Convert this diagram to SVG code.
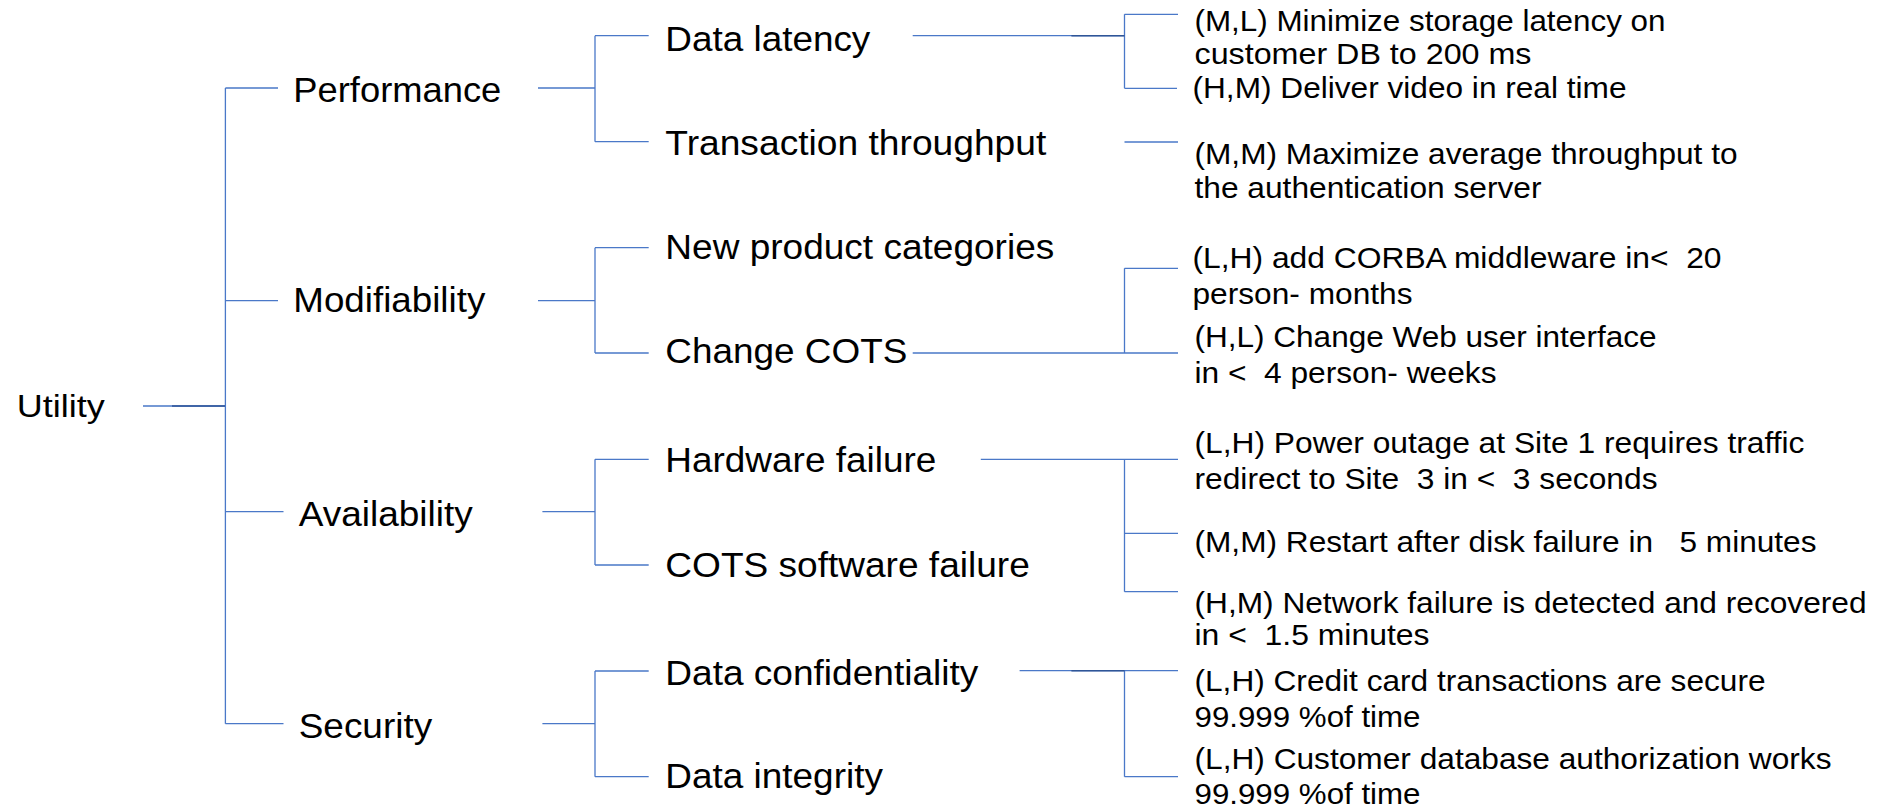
<svg xmlns="http://www.w3.org/2000/svg" width="1884" height="809" viewBox="0 0 1884 809">
<style>
  text { font-family: "Liberation Sans", Arial, sans-serif; fill: #000; white-space: pre; }
  .l1 { font-size: 32px; }
  .l2 { font-size: 35px; }
  .l3 { font-size: 35.5px; }
  .lf { font-size: 29px; }
  .c { stroke: #4a78c8; stroke-width: 1.3; fill: none; }
  .cd { stroke: #2f5597; stroke-width: 1.6; fill: none; }
</style>
<rect x="0" y="0" width="1884" height="809" fill="#fff"/>
<g id="connectors">
  <path class="c" d="M143 406H225.4M225.4 88V723.7M225.4 88H278M225.4 300.7H278M225.4 511.7H283.5M225.4 723.7H283.5"/>
  <path class="cd" d="M172 406H225"/>
  <path class="c" d="M538 88H595M538 300.7H595M542.4 511.7H595M542.4 723.7H595"/>
  <path class="c" d="M595 35.7V141.7M595 35.7H648.7M595 141.7H648.7"/>
  <path class="c" d="M595 247.7V353M595 247.7H648.7M595 353H648.7"/>
  <path class="c" d="M595 459.3V565M595 459.3H648.7M595 565H648.7"/>
  <path class="c" d="M595 671V776.7M595 671H648.7M595 776.7H648.7"/>
  <path class="c" d="M912.7 35.7H1124.5M1124.5 14.3V88.3M1124.5 14.3H1178M1124.5 88.3H1177"/>
  <path class="cd" d="M1071.4 35.7H1124.5"/>
  <path class="c" d="M1124.5 142H1178"/>
  <path class="c" d="M912.7 353H1178M1124.5 268.3V353M1124.5 268.3H1178"/>
  <path class="c" d="M980.8 459.3H1178M1124.5 459.3V591.7M1124.5 533.3H1178M1124.5 591.7H1178"/>
  <path class="c" d="M1019.6 670.7H1178M1124.5 670.7V776.7M1124.5 776.7H1178"/>
  <path class="cd" d="M1071.4 670.7H1124.5"/>
</g>
<g id="utility"><text class="l1" x="16.7" y="417.3" textLength="88" lengthAdjust="spacingAndGlyphs">Utility</text></g>
<g id="performance"><text class="l2" x="293.3" y="102" textLength="208" lengthAdjust="spacingAndGlyphs">Performance</text></g>
<g id="modifiability"><text class="l2" x="293.3" y="312" textLength="192" lengthAdjust="spacingAndGlyphs">Modifiability</text></g>
<g id="availability"><text class="l2" x="298.7" y="526" textLength="174" lengthAdjust="spacingAndGlyphs">Availability</text></g>
<g id="security"><text class="l2" x="298.7" y="738.3" textLength="133.5" lengthAdjust="spacingAndGlyphs">Security</text></g>

<g id="data-latency"><text class="l3" x="665.3" y="50.7" textLength="205" lengthAdjust="spacingAndGlyphs">Data latency</text></g>
<g id="transaction-throughput"><text class="l3" x="665.3" y="155" textLength="381" lengthAdjust="spacingAndGlyphs">Transaction throughput</text></g>
<g id="new-product-categories"><text class="l3" x="665.3" y="259" textLength="389" lengthAdjust="spacingAndGlyphs">New product categories</text></g>
<g id="change-cots"><text class="l3" x="665.3" y="363.3" textLength="242" lengthAdjust="spacingAndGlyphs">Change COTS</text></g>
<g id="hardware-failure"><text class="l3" x="665.3" y="471.7" textLength="271" lengthAdjust="spacingAndGlyphs">Hardware failure</text></g>
<g id="cots-software-failure"><text class="l3" x="665.3" y="576.7" textLength="364.5" lengthAdjust="spacingAndGlyphs">COTS software failure</text></g>
<g id="data-confidentiality"><text class="l3" x="665.3" y="685" textLength="313" lengthAdjust="spacingAndGlyphs">Data confidentiality</text></g>
<g id="data-integrity"><text class="l3" x="665.3" y="788.3" textLength="217.6" lengthAdjust="spacingAndGlyphs">Data integrity</text></g>

<g id="leaf-ml-storage">
  <text class="lf" x="1194.5" y="31" textLength="471" lengthAdjust="spacingAndGlyphs">(M,L) Minimize storage latency on</text>
  <text class="lf" x="1194.5" y="63.5" textLength="337" lengthAdjust="spacingAndGlyphs">customer DB to 200 ms</text>
</g>
<g id="leaf-hm-video"><text class="lf" x="1192.5" y="97.5" textLength="434" lengthAdjust="spacingAndGlyphs">(H,M) Deliver video in real time</text></g>
<g id="leaf-mm-throughput">
  <text class="lf" x="1194.5" y="163.5" textLength="543" lengthAdjust="spacingAndGlyphs">(M,M) Maximize average throughput to</text>
  <text class="lf" x="1194.5" y="198.3" textLength="347" lengthAdjust="spacingAndGlyphs">the authentication server</text>
</g>
<g id="leaf-lh-corba">
  <text class="lf" x="1192.5" y="268.3" textLength="529" lengthAdjust="spacingAndGlyphs">(L,H) add CORBA middleware in&lt;  20</text>
  <text class="lf" x="1192.5" y="304" textLength="220" lengthAdjust="spacingAndGlyphs">person- months</text>
</g>
<g id="leaf-hl-web">
  <text class="lf" x="1194.5" y="347.3" textLength="462" lengthAdjust="spacingAndGlyphs">(H,L) Change Web user interface</text>
  <text class="lf" x="1194.5" y="383.3" textLength="302" lengthAdjust="spacingAndGlyphs">in &lt;  4 person- weeks</text>
</g>
<g id="leaf-lh-power">
  <text class="lf" x="1194.5" y="453.3" textLength="610" lengthAdjust="spacingAndGlyphs">(L,H) Power outage at Site 1 requires traffic</text>
  <text class="lf" x="1194.5" y="489.3" textLength="463" lengthAdjust="spacingAndGlyphs">redirect to Site  3 in &lt;  3 seconds</text>
</g>
<g id="leaf-mm-restart"><text class="lf" x="1194.5" y="551.7" textLength="622" lengthAdjust="spacingAndGlyphs">(M,M) Restart after disk failure in   5 minutes</text></g>
<g id="leaf-hm-network">
  <text class="lf" x="1194.5" y="613.3" textLength="672" lengthAdjust="spacingAndGlyphs">(H,M) Network failure is detected and recovered</text>
  <text class="lf" x="1194.5" y="645" textLength="235" lengthAdjust="spacingAndGlyphs">in &lt;  1.5 minutes</text>
</g>
<g id="leaf-lh-credit">
  <text class="lf" x="1194.5" y="690.7" textLength="571" lengthAdjust="spacingAndGlyphs">(L,H) Credit card transactions are secure</text>
  <text class="lf" x="1194.5" y="726.7" textLength="226" lengthAdjust="spacingAndGlyphs">99.999 %of time</text>
</g>
<g id="leaf-lh-customer">
  <text class="lf" x="1194.5" y="769.3" textLength="637" lengthAdjust="spacingAndGlyphs">(L,H) Customer database authorization works</text>
  <text class="lf" x="1194.5" y="804" textLength="226" lengthAdjust="spacingAndGlyphs">99.999 %of time</text>
</g>
</svg>
